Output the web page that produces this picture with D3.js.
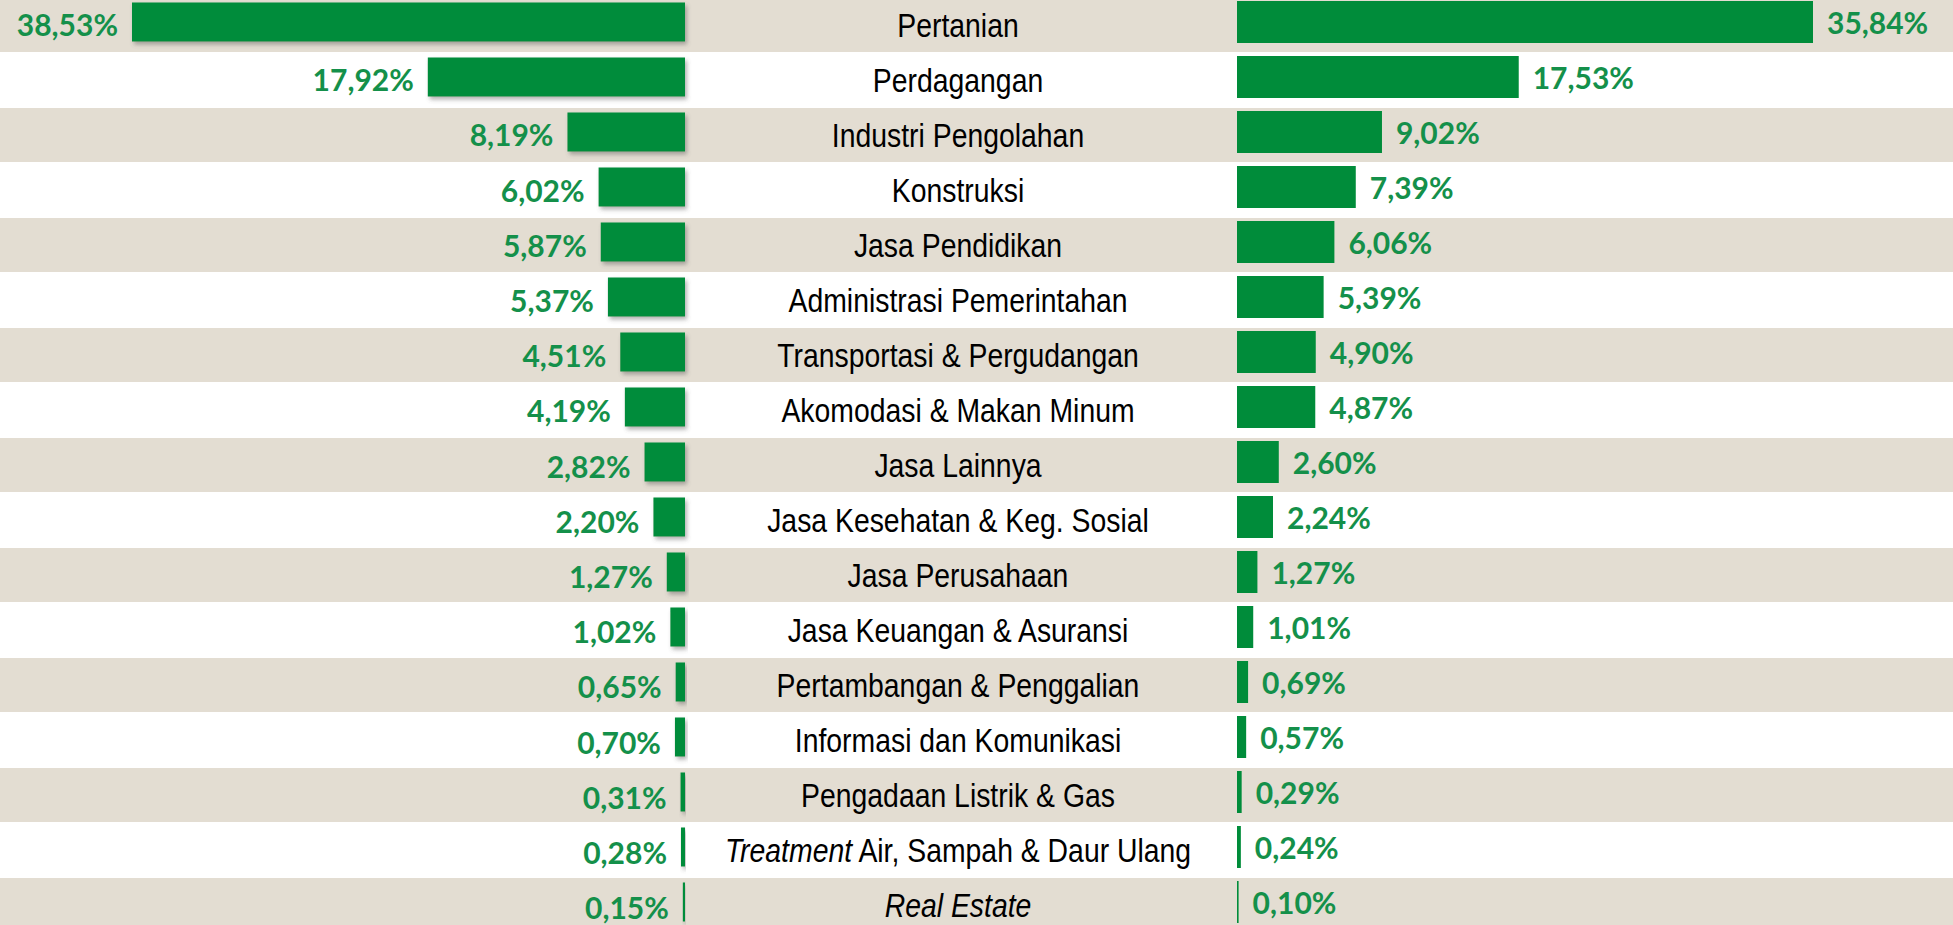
<!DOCTYPE html>
<html>
<head>
<meta charset="utf-8">
<script src="https://cdn.jsdelivr.net/npm/d3@7"></script>
<style>
  html, body { margin: 0; padding: 0; background: #fff; overflow: hidden; }
  .cat { font-family: 'Liberation Sans Narrow', 'Arial Narrow', 'Liberation Sans', sans-serif; font-size: 33px; fill: #000; }
  .val { font-family: Lato, 'Open Sans', sans-serif; font-weight: 700; font-size: 30px; fill: #14904a; }
</style>
</head>
<body>
<div id="chart"></div>
<script>
const categories = [
  'Pertanian',
  'Perdagangan',
  'Industri Pengolahan',
  'Konstruksi',
  'Jasa Pendidikan',
  'Administrasi Pemerintahan',
  'Transportasi & Pergudangan',
  'Akomodasi & Makan Minum',
  'Jasa Lainnya',
  'Jasa Kesehatan & Keg. Sosial',
  'Jasa Perusahaan',
  'Jasa Keuangan & Asuransi',
  'Pertambangan & Penggalian',
  'Informasi dan Komunikasi',
  'Pengadaan Listrik & Gas',
  'Treatment Air, Sampah & Daur Ulang',
  'Real Estate'
];

// words shown in italics inside the category names
const italicWords = ['Treatment', 'Real Estate'];

const leftValues = [38.53, 17.92, 8.19, 6.02, 5.87, 5.37, 4.51, 4.19, 2.82, 2.20, 1.27, 1.02, 0.65, 0.70, 0.31, 0.28, 0.15];
const rightValues = [35.84, 17.53, 9.02, 7.39, 6.06, 5.39, 4.90, 4.87, 2.60, 2.24, 1.27, 1.01, 0.69, 0.57, 0.29, 0.24, 0.10];

const width = 1953;
const height = 925;
const green = '#008c3a';

const fmt = function(v) {
  return d3.format('.2f')(v).replace('.', ',') + '%';
};

const svg = d3.select('#chart')
  .append('svg')
  .attr('width', width)
  .attr('height', height);

const defs = svg.append('defs');
defs.append('filter')
  .attr('id', 'shadow')
  .attr('x', '-20%').attr('y', '-30%')
  .attr('width', '140%').attr('height', '170%')
  .append('feDropShadow')
  .attr('dx', 2).attr('dy', 3)
  .attr('stdDeviation', 2)
  .attr('flood-color', '#555')
  .attr('flood-opacity', 0.45);

const y = d3.scaleBand()
  .domain(categories)
  .range([-2.5, -2.5 + 55 * categories.length])
  .padding(0);

const xLeft = d3.scaleLinear()
  .domain([0, d3.max(leftValues)])
  .range([685, 132]);

const xRight = d3.scaleLinear()
  .domain([0, d3.max(rightValues)])
  .range([1237, 1813]);

// striped row backgrounds
svg.append('g')
  .selectAll('rect')
  .data(categories)
  .enter()
  .append('rect')
  .attr('x', 0)
  .attr('y', d => y(d) + 0.5)
  .attr('width', width)
  .attr('height', y.bandwidth() - 1)
  .attr('fill', (d, i) => i % 2 === 0 ? '#e3ddd2' : '#ffffff');

const rows = svg.append('g')
  .selectAll('g')
  .data(categories)
  .enter()
  .append('g')
  .attr('transform', d => 'translate(0,' + y(d) + ')');

// left bars (with drop shadow)
rows.append('rect')
  .attr('x', (d, i) => xLeft(leftValues[i]))
  .attr('y', 5)
  .attr('width', (d, i) => xLeft(0) - xLeft(leftValues[i]))
  .attr('height', 39)
  .attr('fill', green)
  .attr('filter', 'url(#shadow)');

rows.append('text')
  .attr('class', 'val')
  .attr('x', (d, i) => xLeft(leftValues[i]) - 14)
  .attr('y', (d, i) => 28 + i * 0.2)
  .attr('dy', '0.35em')
  .attr('text-anchor', 'end')
  .text((d, i) => fmt(leftValues[i]));

// right bars
rows.append('rect')
  .attr('x', xRight(0))
  .attr('y', 3.5)
  .attr('width', (d, i) => xRight(rightValues[i]) - xRight(0))
  .attr('height', 42)
  .attr('fill', green);

rows.append('text')
  .attr('class', 'val')
  .attr('x', (d, i) => xRight(rightValues[i]) + 14)
  .attr('y', 26)
  .attr('dy', '0.35em')
  .text((d, i) => fmt(rightValues[i]));

// category names in the middle, squeezed to look like a narrow face
const labels = rows.append('text')
  .attr('class', 'cat')
  .attr('transform', 'translate(958,28) scale(0.86,1)')
  .attr('dy', '0.35em')
  .attr('text-anchor', 'middle');

labels.each(function(d) {
  const t = d3.select(this);
  const word = italicWords.find(w => d.startsWith(w));
  if (word) {
    t.append('tspan').attr('font-style', 'italic').text(word);
    t.append('tspan').text(d.slice(word.length));
  } else {
    t.text(d);
  }
});
</script>
</body>
</html>
